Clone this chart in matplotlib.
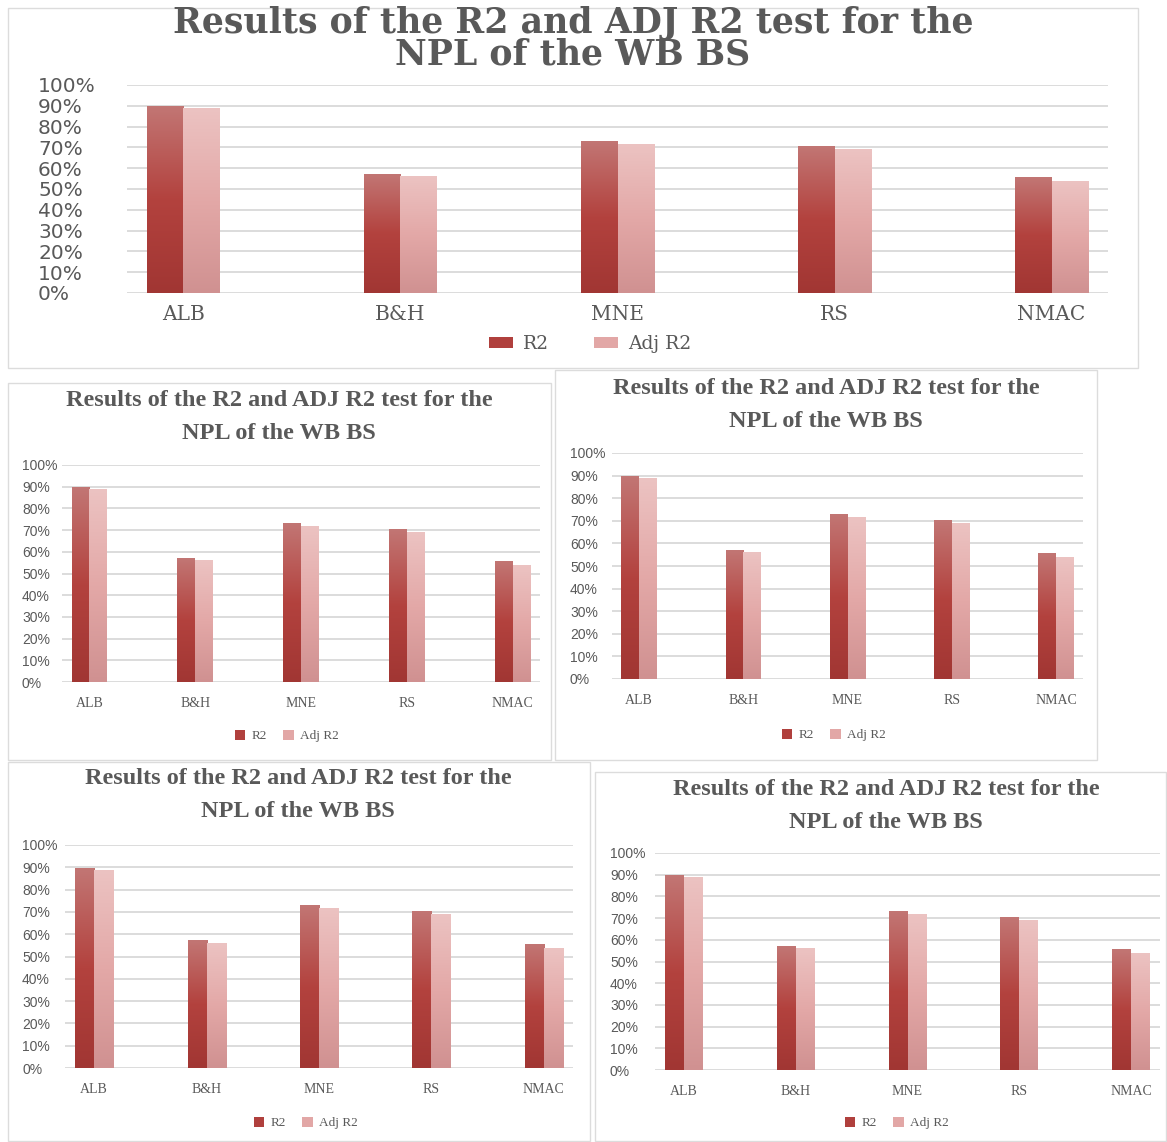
import matplotlib
matplotlib.use("Agg")
import matplotlib.pyplot as plt
import numpy as np
from matplotlib.colors import LinearSegmentedColormap
from matplotlib.patches import Rectangle

categories = ["ALB", "B&H", "MNE", "RS", "NMAC"]
r2 = [89.5, 57.0, 73.0, 70.2, 55.5]
adj_r2 = [88.5, 56.0, 71.5, 68.8, 53.8]
yticks = [0, 10, 20, 30, 40, 50, 60, 70, 80, 90, 100]
ytick_labels = [f"{t}%" for t in yticks]
title_text = "Results of the R2 and ADJ R2 test for the\nNPL of the WB BS"
series_names = ["R2", "Adj R2"]

W, H = 1167, 1142
fig = plt.figure(figsize=(W / 100, H / 100), dpi=100)
fig.patch.set_facecolor("white")

GRID = "#d9d9d9"
TXT = "#595959"
cmap_r2 = LinearSegmentedColormap.from_list("r2", ["#a13633", "#b3423e", "#c27674"])
cmap_adj = LinearSegmentedColormap.from_list("adj", ["#d09191", "#e3a8a7", "#ecc3c2"])
solid_r2 = "#b0403d"
solid_adj = "#e2a7a6"


def px_box(l, t, r, b):
    return [l / W, 1 - b / H, (r - l) / W, (b - t) / H]


def border(l, t, r, b):
    fig.add_artist(Rectangle((l / W, 1 - b / H), (r - l) / W, (b - t) / H,
                             transform=fig.transFigure, fill=False,
                             edgecolor="#dcdcdc", lw=1.0))


def panel(box, tick_left, tick_font, tick_size, cat_font, cat_size, title_font, title_size,
          title_xy, title_ls, leg_xy, leg_font, leg_size, handle_len, handle_h, cat_pad, colsp):
    ax = fig.add_axes(px_box(*box))
    x = np.arange(len(categories))
    w = 0.17
    b1 = ax.bar(x - w / 2, r2, w, color=solid_r2, zorder=2)
    b2 = ax.bar(x + w / 2, adj_r2, w, color=solid_adj, zorder=2)
    grad = np.linspace(0, 1, 256).reshape(-1, 1)
    for bars, cm in ((b1, cmap_r2), (b2, cmap_adj)):
        for bar in bars:
            x0 = bar.get_x()
            hgt = bar.get_height()
            ax.imshow(grad, cmap=cm, origin="lower", aspect="auto",
                      extent=(x0, x0 + bar.get_width(), 0, hgt), zorder=3)
    ax.set_xlim(-0.26, len(categories) - 1 + 0.26)
    ax.set_ylim(0, 100)
    ax.set_yticks(yticks)
    ax.set_yticklabels(ytick_labels, fontfamily=tick_font, fontsize=tick_size, color=TXT)
    ax.set_xticks(x)
    ax.set_xticklabels(categories, fontfamily=cat_font, fontsize=cat_size, color=TXT)
    ax.tick_params(axis="both", length=0)
    ax.tick_params(axis="x", pad=cat_pad)
    for lab in ax.get_yticklabels():
        lab.set_horizontalalignment("left")
    ax.tick_params(axis="y", pad=(box[0] - tick_left) * 0.72)
    ax.grid(axis="y", color=GRID, lw=1.3, zorder=0)
    ax.set_axisbelow(True)
    for s in ax.spines.values():
        s.set_visible(False)
    fig.text(title_xy[0] / W, 1 - title_xy[1] / H, title_text, ha="center", va="center",
             multialignment="center",
             fontfamily=title_font, fontweight="bold", fontsize=title_size,
             color=TXT, linespacing=title_ls)
    handles = [Rectangle((0, 0), 1, 1, facecolor=solid_r2),
               Rectangle((0, 0), 1, 1, facecolor=solid_adj)]
    leg = fig.legend(handles, series_names, loc="center",
                     bbox_to_anchor=(leg_xy[0] / W, 1 - leg_xy[1] / H),
                     ncol=2, frameon=False, handlelength=handle_len, handleheight=handle_h,
                     handletextpad=0.5, columnspacing=colsp,
                     prop={"family": leg_font, "size": leg_size})
    for t in leg.get_texts():
        t.set_color(TXT)
    return ax


# panel borders
border(8, 8, 1138, 368)
border(8, 383, 551, 760)
border(555, 370, 1097, 760)
border(8, 762, 590, 1141)
border(595, 772, 1166, 1141)

panel((127, 85, 1108, 293), 38, "DejaVu Sans", 14.5, "DejaVu Serif", 14.5,
      "DejaVu Serif", 25, (573, 39), 0.92, (590, 344), "DejaVu Serif", 13.5, 1.3, 0.55, 9, 2.4)

panel((62, 465, 540, 682), 22, "Liberation Sans", 10, "Liberation Serif", 10,
      "Liberation Serif", 17.5, (279, 417), 1.7, (287, 736), "Liberation Serif", 9.5, 0.8, 0.8, 11, 1.2)

panel((612, 453, 1083, 679), 570, "Liberation Sans", 10, "Liberation Serif", 10,
      "Liberation Serif", 17.5, (826, 405), 1.7, (834, 735), "Liberation Serif", 9.5, 0.8, 0.8, 11, 1.2)

panel((65, 845, 573, 1068), 22, "Liberation Sans", 10, "Liberation Serif", 10,
      "Liberation Serif", 17.5, (298, 795), 1.7, (306, 1123), "Liberation Serif", 9.5, 0.8, 0.8, 11, 1.2)

panel((655, 853, 1160, 1070), 610, "Liberation Sans", 10, "Liberation Serif", 10,
      "Liberation Serif", 17.5, (886, 806), 1.7, (897, 1123), "Liberation Serif", 9.5, 0.8, 0.8, 11, 1.2)

fig.savefig("out.png", dpi=100, facecolor="white")
